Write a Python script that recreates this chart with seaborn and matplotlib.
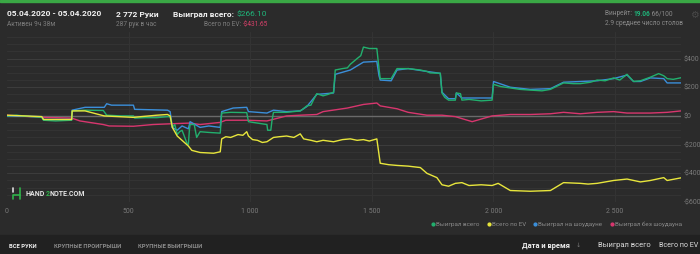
import numpy as np
import pandas as pd
import matplotlib
matplotlib.use("Agg")
import matplotlib.pyplot as plt
import seaborn as sns
from matplotlib.lines import Line2D
from matplotlib.patches import Rectangle

# ---------------- data ----------------
series_names = ["Выиграл всего", "Всего по EV", "Выиграл на шоудауне", "Выиграл без шоудауна"]
series_colors = ["#22b06e", "#e8e63c", "#3b8fda", "#d8366e"]

won_hands = [0, 40, 100, 143, 150, 200, 266, 268, 321, 396, 410, 470, 520, 525, 570, 616, 660, 671, 680, 690,
             700, 710, 720, 740, 746, 750, 753, 770, 780, 794, 830, 877, 883, 920, 986, 993, 1030, 1069, 1072,
             1085, 1090, 1096, 1150, 1206, 1215, 1233, 1250, 1260, 1274, 1300, 1320, 1343, 1350, 1380, 1400,
             1412, 1440, 1455, 1466, 1490, 1521, 1530, 1535, 1580, 1604, 1650, 1700, 1727, 1740, 1782, 1789,
             1800, 1816, 1844, 1848, 1865, 1871, 1900, 1950, 1995, 2001, 2030, 2070, 2110, 2152, 2200, 2235,
             2289, 2330, 2358, 2400, 2427, 2460, 2495, 2520, 2550, 2577, 2605, 2646, 2680, 2701, 2715, 2740, 2772]
won_vals = [0, 5, -5, -10, -30, -35, -30, 35, 40, 38, 5, 0, 0, -15, -12, -12, -5, -5, -80, -60,
            -130, -110, -100, -190, -200, -100, -60, -60, -150, -110, -115, -120, 20, 25, 23, -40, -50, -60, -100,
            -100, -30, 25, 25, 35, 45, 70, 75, 110, 155, 140, 150, 165, 320, 330, 335,
            360, 400, 420, 480, 470, 470, 330, 260, 260, 330, 330, 320, 310, 300, 297, 160,
            130, 110, 110, 160, 155, 110, 115, 105, 110, 220, 205, 195, 185, 180, 175, 185,
            230, 225, 225, 235, 250, 245, 265, 250, 290, 240, 245, 270, 295, 280, 260, 255, 266.1]

sd_hands = [0, 143, 150, 266, 268, 321, 400, 410, 430, 520, 525, 616, 660, 671, 680, 700, 720, 746, 753, 794,
            830, 877, 883, 930, 986, 993, 1069, 1096, 1150, 1206, 1233, 1274, 1343, 1350, 1412, 1466, 1521,
            1530, 1535, 1580, 1604, 1650, 1727, 1782, 1789, 1816, 1844, 1848, 1871, 1995, 2001, 2070, 2152,
            2235, 2289, 2358, 2427, 2495, 2550, 2577, 2605, 2646, 2701, 2715, 2772]
sd_vals = [0, -5, -25, -25, 40, 60, 60, 85, 75, 75, 46, 42, 40, 30, -80, -100, -70, -90, -40, -80,
           -70, -80, 30, 55, 60, 30, 20, 40, 30, 35, 65, 150, 160, 290, 320, 375, 380,
           280, 250, 245, 320, 330, 310, 297, 165, 120, 120, 160, 125, 125, 240, 200, 185,
           190, 235, 240, 245, 260, 285, 240, 240, 265, 260, 230, 230]

nsd_hands = [0, 143, 266, 300, 396, 420, 520, 600, 671, 750, 794, 877, 900, 986, 1069, 1150, 1206, 1274, 1300,
             1400, 1466, 1521, 1535, 1604, 1650, 1727, 1789, 1844, 1913, 1995, 2070, 2152, 2235, 2289, 2358,
             2427, 2495, 2550, 2646, 2715, 2772]
nsd_vals = [5, -10, -15, -35, -60, -70, -72, -60, -55, -50, -60, -45, -30, -30, -35, 0, 5, 10, 30,
            55, 80, 90, 70, 50, 25, 5, 5, -5, -40, 0, 10, 10, 15, 25, 15,
            25, 30, 20, 20, 25, 35]

ev_hands = [0, 143, 150, 266, 268, 321, 400, 520, 616, 660, 671, 680, 700, 746, 760, 794, 850, 877, 883, 900,
            920, 950, 970, 986, 993, 1010, 1030, 1050, 1069, 1096, 1120, 1150, 1180, 1206, 1220, 1250, 1274,
            1300, 1343, 1380, 1412, 1440, 1466, 1490, 1521, 1535, 1570, 1604, 1650, 1700, 1727, 1768, 1789,
            1816, 1844, 1871, 1900, 1950, 1995, 2020, 2070, 2152, 2235, 2289, 2358, 2390, 2427, 2495, 2550,
            2605, 2646, 2701, 2715, 2772]
ev_vals = [5, -5, -25, -25, 35, 35, 0, -10, 5, 10, 0, -80, -140, -210, -240, -255, -260, -250, -160, -145,
           -150, -130, -135, -110, -140, -165, -170, -185, -180, -150, -145, -140, -150, -125, -160, -170, -180,
           -170, -180, -165, -160, -170, -165, -175, -160, -330, -340, -345, -350, -360, -400, -430, -480,
           -490, -470, -465, -485, -480, -485, -470, -520, -525, -520, -465, -470, -475, -470, -450, -440,
           -460, -450, -430, -450, -431.65]

x_ticks = [0, 500, 1000, 1500, 2000, 2500]
x_tick_labels = ["0", "500", "1 000", "1 500", "2 000", "2 500"]
y_ticks = [400, 200, 0, -200, -400, -600]
y_tick_labels = ["$400", "$200", "$0", "-$200", "-$400", "-$600"]

# ---------------- figure ----------------
BG = "#2b2b2b"
BAR = "#212121"

sns.set_theme(style="dark")
plt.rcParams["font.family"] = ["Roboto", "DejaVu Sans"]

W, H = 700, 254
fig = plt.figure(figsize=(7, 2.54), dpi=100, facecolor=BG)


def fx(px):
    return px / W


def fy(py):
    return 1 - py / H


fig.patches.append(Rectangle((0, fy(1.6)), 1, 1.6 / H, transform=fig.transFigure, color="#3aa845", zorder=5))
fig.patches.append(Rectangle((0, 0), 1, 19 / H, transform=fig.transFigure, color=BAR, zorder=0))

ax = fig.add_axes([fx(7), fy(202), fx(681) - fx(7), (202 - 32) / H])
ax.set_facecolor(BG)

frames = []
for name, hx, vals in [("Выиграл без шоудауна", nsd_hands, nsd_vals),
                       ("Выиграл на шоудауне", sd_hands, sd_vals),
                       ("Выиграл всего", won_hands, won_vals),
                       ("Всего по EV", ev_hands, ev_vals)]:
    frames.append(pd.DataFrame({"hand": hx, "value": vals, "series": name}))
df = pd.concat(frames, ignore_index=True)

palette = dict(zip(series_names, series_colors))
sns.lineplot(data=df, x="hand", y="value", hue="series", palette=palette,
             hue_order=["Выиграл без шоудауна", "Выиграл на шоудауне", "Выиграл всего", "Всего по EV"],
             estimator=None, sort=False, linewidth=1.0, ax=ax, legend=False, zorder=3)

ax.set_xlim(0, 2772)
ax.set_ylim(-600, 585)
for s in ax.spines.values():
    s.set_visible(False)

for v in range(-600, 600, 50):
    if v == 0:
        continue
    col = "#3c3c3c" if v % 200 == 0 else "#333333"
    ax.axhline(v, color=col, lw=0.8, zorder=1)
ax.axhline(0, color="#6a6a6a", lw=1.0, zorder=2)
for xv in x_ticks[1:]:
    ax.axvline(xv, color="#333333", lw=0.8, zorder=1)

ax.set_xticks(x_ticks)
ax.set_xticklabels(x_tick_labels)
ax.yaxis.tick_right()
ax.set_yticks(y_ticks)
ax.set_yticklabels(y_tick_labels)
ax.tick_params(axis="both", length=0, labelsize=5, labelcolor="#7a7a7a")
ax.tick_params(axis="x", pad=4)
ax.tick_params(axis="y", pad=2)
ax.set_xlabel("")
ax.set_ylabel("")
ax.grid(False)

handles = [Line2D([], [], marker="o", linestyle="", markersize=2.0, color=c) for c in series_colors]
fig.legend(handles, series_names, loc="center right", bbox_to_anchor=(fx(682), fy(224)),
           ncol=4, frameon=False, fontsize=4.5, labelcolor="#8a8a8a", handlelength=0.4,
           handletextpad=0.3, columnspacing=1.3, borderpad=0, borderaxespad=0)

# watermark logo
ax_wm = fig.add_axes([fx(11), fy(200), fx(12), 13 / H])
ax_wm.set_xlim(0, 12)
ax_wm.set_ylim(0, 13)
ax_wm.axis("off")
ax_wm.plot([2, 2], [8, 12], color="#dddddd", lw=1.2)
ax_wm.plot([2, 2, 9], [1, 5, 5], color="#2fb34a", lw=1.2)
ax_wm.plot([9, 9], [1, 12], color="#2fb34a", lw=1.2)

renderer = fig.canvas.get_renderer()


def chain(x_px, y_px, parts, ha="left", va="center"):
    """Place consecutive text pieces side by side (left to right)."""
    texts = []
    for s, kw in parts:
        texts.append(fig.text(0, fy(y_px), s, va=va, **kw))
    widths = [t.get_window_extent(renderer).width for t in texts]
    total = sum(widths)
    start = x_px if ha == "left" else x_px - total
    cur = start
    for t, w in zip(texts, widths):
        t.set_x(fx(cur))
        cur += w
    return texts


chain(26, 194, [("HAND", dict(fontsize=5, color="#e6e6e6", weight="bold")),
                ("2", dict(fontsize=5, color="#2fb34a", weight="bold")),
                ("NOTE.COM", dict(fontsize=5, color="#e6e6e6", weight="bold"))])

WHITE = "#f2f2f2"
fig.text(fx(7), fy(14), "05.04.2020 - 05.04.2020", fontsize=6.0, color=WHITE, weight="bold", va="center")
fig.text(fx(7), fy(24.5), "Активен 9ч 38м", fontsize=4.7, color="#7d7d7d", va="center")
fig.text(fx(116), fy(14), "2 772 Руки", fontsize=6.0, color=WHITE, weight="bold", va="center")
fig.text(fx(116), fy(24.5), "287 рук в час", fontsize=4.7, color="#7d7d7d", va="center")
chain(173, 14, [("Выиграл всего: ", dict(fontsize=6.0, color=WHITE, weight="bold")),
                ("$266.10", dict(fontsize=6.0, color="#1fb57a"))])
chain(268, 24.5, [("Всего по EV: ", dict(fontsize=4.7, color="#7d7d7d")),
                  ("-$431.65", dict(fontsize=4.7, color="#d8406a"))], ha="right")
chain(605, 13.5, [("Винрейт: ", dict(fontsize=4.7, color="#8a8a8a")),
                  ("19.06", dict(fontsize=4.7, color="#1fb57a", weight="bold")),
                  (" 66/100", dict(fontsize=4.7, color="#8a8a8a"))])
fig.text(fx(605), fy(23.5), "2.9 среднее число столов", fontsize=4.7, color="#8a8a8a", va="center")
fig.text(fx(690), fy(14.5), "⚙", fontsize=7, color="#4a4a4a", va="center", family="DejaVu Sans")

fig.text(fx(9), fy(246), "ВСЕ РУКИ", fontsize=4.2, color="#eeeeee", weight="bold", va="center")
fig.text(fx(54), fy(246), "КРУПНЫЕ ПРОИГРЫШИ", fontsize=4.2, color="#8a8a8a", weight="bold", va="center")
fig.text(fx(138), fy(246), "КРУПНЫЕ ВЫИГРЫШИ", fontsize=4.2, color="#8a8a8a", weight="bold", va="center")
fig.text(fx(522), fy(245.5), "Дата и время", fontsize=5.4, color="#f0f0f0", weight="bold", va="center")
fig.text(fx(576), fy(245.5), "↓", fontsize=4.5, color="#777777", va="center", family="DejaVu Sans")
fig.text(fx(598), fy(245.5), "Выиграл всего", fontsize=5.4, color="#dddddd", va="center")
fig.text(fx(698), fy(245.5), "Всего по EV", fontsize=5.1, color="#dddddd", va="center", ha="right")

fig.savefig("out.png", dpi=100, facecolor=BG)
